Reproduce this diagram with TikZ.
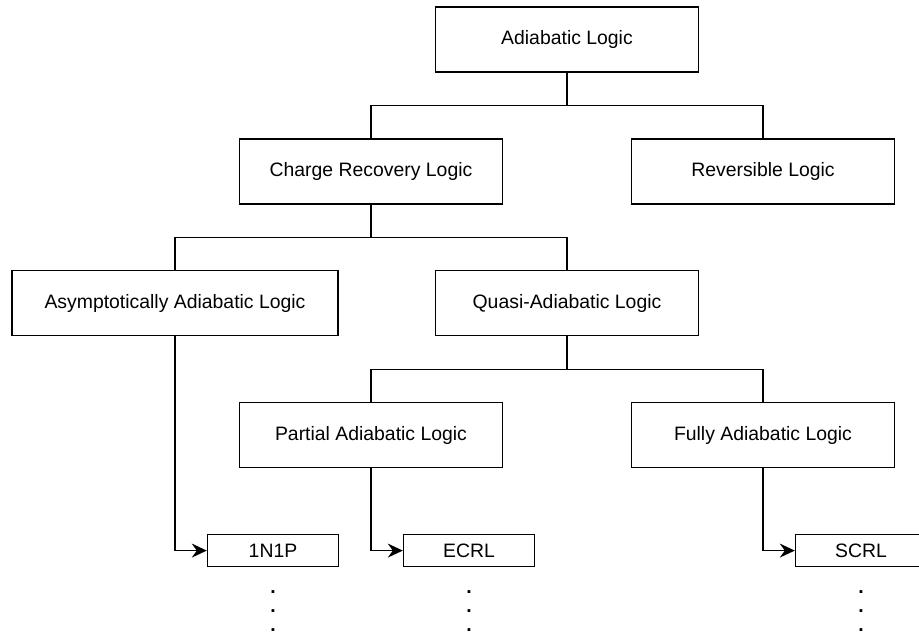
\documentclass[tikz,border=0pt]{standalone}
\usepackage{fontspec}
\setmainfont{Liberation Sans}
\usetikzlibrary{arrows.meta,positioning,calc}
\tikzset{
  blk/.style={draw, line width=1.4pt, align=center, inner sep=0pt, minimum height=65pt, minimum width=263pt, font=\fontsize{19.4pt}{23pt}\selectfont},
  sm/.style={draw, line width=1.4pt, align=center, inner sep=0pt, minimum height=32pt, minimum width=131pt, font=\fontsize{19.4pt}{23pt}\selectfont},
  ln/.style={line width=1.4pt},
  arr/.style={-{Stealth[length=15pt, width=14pt, inset=5pt]}, line width=1.4pt},
  dts/.style={align=center, inner sep=0pt, font=\fontsize{19.4pt}{19pt}\selectfont\bfseries}
}
\begin{document}
\begin{tikzpicture}[node distance=65.5pt and 0pt]
  \useasboundingbox (0,0) rectangle (919pt,635pt);
  \node[blk] (adi) at (567pt,595.5pt) {Adiabatic Logic};
  \node[blk, below=of adi, xshift=-196pt] (crl) {Charge Recovery Logic};
  \node[blk, below=of adi, xshift=196pt] (rev) {Reversible Logic};
  \node[blk, minimum width=326pt, below=of crl, xshift=-196pt] (aal) {Asymptotically Adiabatic Logic};
  \node[blk, below=of crl, xshift=196pt] (qal) {Quasi-Adiabatic Logic};
  \node[blk, below=of qal, xshift=-196pt] (pal) {Partial Adiabatic Logic};
  \node[blk, below=of qal, xshift=196pt] (fal) {Fully Adiabatic Logic};
  \node[sm, below=of pal, xshift=-98pt] (onp) {1N1P};
  \node[sm, below=of pal, xshift=98pt] (ecrl) {ECRL};
  \node[sm, below=of fal, xshift=98pt] (scrl) {SCRL};
  \node[dts, below=23pt of onp] (onpd) {.\\.\\.};
  \node[dts, below=23pt of ecrl] (ecrld) {.\\.\\.};
  \node[dts, below=23pt of scrl] (scrld) {.\\.\\.};
  \coordinate (j1) at ($(adi.south)!.5!(adi.south |- crl.north)$);
  \coordinate (j2) at ($(crl.south)!.5!(crl.south |- qal.north)$);
  \coordinate (j3) at ($(qal.south)!.5!(qal.south |- pal.north)$);
  \draw[ln] (adi.south) -- (j1) -| (crl.north);
  \draw[ln] (j1) -| (rev.north);
  \draw[ln] (crl.south) -- (j2) -| (aal.north);
  \draw[ln] (j2) -| (qal.north);
  \draw[ln] (qal.south) -- (j3) -| (pal.north);
  \draw[ln] (j3) -| (fal.north);
  \draw[arr] (aal.south) |- (onp.west);
  \draw[arr] (pal.south) |- (ecrl.west);
  \draw[arr] (fal.south) |- (scrl.west);
\end{tikzpicture}
\end{document}
